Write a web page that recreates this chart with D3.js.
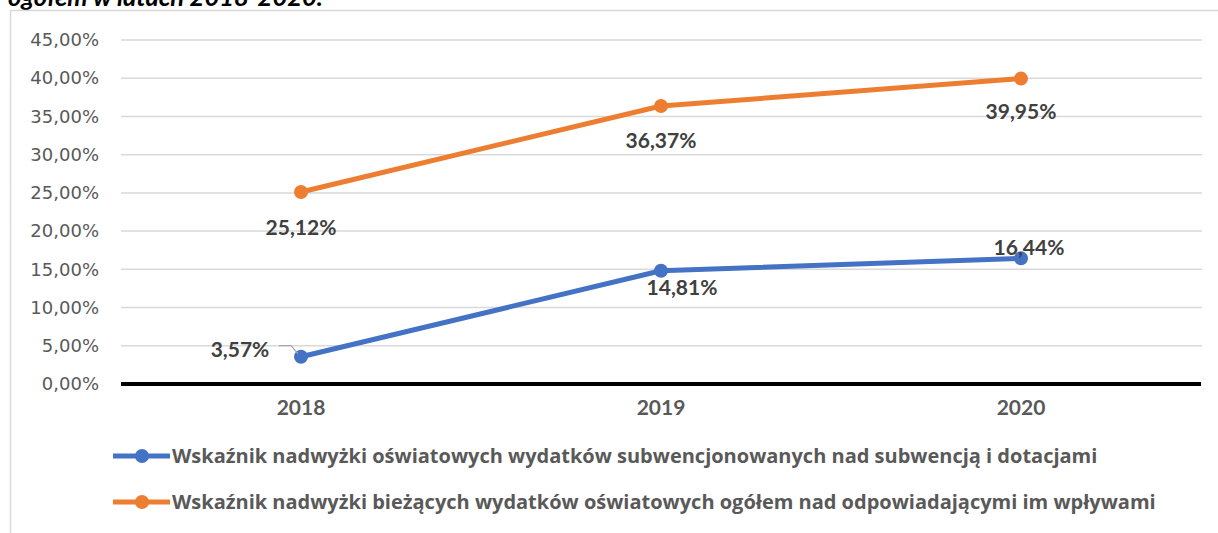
<!DOCTYPE html>
<html>
<head>
<meta charset="utf-8">
<script src="https://cdn.jsdelivr.net/npm/d3@7"></script>
<style>
  body { margin: 0; background: #fff; }
  svg { display: block; }
</style>
</head>
<body>
<script>
var years = ["2018", "2019", "2020"];
var subwencja = [3.57, 14.81, 16.44];
var biezace = [25.12, 36.37, 39.95];
var yTicks = [0, 5, 10, 15, 20, 25, 30, 35, 40, 45];
var seriesNames = [
  "Wskaźnik nadwyżki oświatowych wydatków subwencjonowanych nad subwencją i dotacjami",
  "Wskaźnik nadwyżki bieżących wydatków oświatowych ogółem nad odpowiadającymi im wpływami"
];
var title = "ogółem w latach 2018-2020.";

var width = 1218, height = 533;
var colors = ["#4472C4", "#ED7D31"];
// label offsets relative to each point (dx, dy of baseline-center)
var labelOff = [
  [[-61, 0], [21, 24], [8, -3]],
  [[0, 43], [0, 42], [0, 40]]
];

var fmt = function (v) { return v.toFixed(2).replace(".", ",") + "%"; };

var svg = d3.select("body").append("svg")
  .attr("width", width)
  .attr("height", height);

// title (cut at top)
svg.append("text")
  .attr("x", 8).attr("y", 6)
  .attr("font-family", "Lato, 'Open Sans', sans-serif")
  .attr("font-size", 25.5)
  .attr("font-weight", "bold")
  .attr("font-style", "italic")
  .attr("fill", "#000")
  .text(title);

// chart border
svg.append("path")
  .attr("d", "M10.5," + height + "V10.5H" + width)
  .attr("fill", "none")
  .attr("stroke", "#d9d9d9")
  .attr("stroke-width", 1.5);

var x = d3.scaleBand().domain(years).range([121, 1201]);
var y = d3.scaleLinear().domain([0, 45]).range([384, 40]);

// grid
svg.append("g").selectAll("line")
  .data(yTicks.filter(function (d) { return d > 0; }))
  .join("line")
  .attr("x1", 121).attr("x2", 1202)
  .attr("y1", function (d) { return y(d); })
  .attr("y2", function (d) { return y(d); })
  .attr("stroke", "#d9d9d9")
  .attr("stroke-width", 1.5);

// y axis labels
var yAxis = svg.append("g")
  .attr("transform", "translate(112,0)")
  .call(d3.axisLeft(y).tickValues(yTicks).tickFormat(fmt).tickSize(0).tickPadding(13));
yAxis.select(".domain").remove();
yAxis.selectAll("text")
  .attr("font-family", "'DejaVu Sans', sans-serif")
  .attr("font-size", 18)
  .attr("fill", "#595959");

// x axis
var xAxis = svg.append("g")
  .attr("transform", "translate(0," + y(0) + ")")
  .call(d3.axisBottom(x).tickSize(0).tickPadding(16));
xAxis.select(".domain")
  .attr("d", "M121,0H1201")
  .attr("stroke", "#000")
  .attr("stroke-width", 4);
xAxis.selectAll("text")
  .attr("font-family", "Lato, sans-serif")
  .attr("font-size", 21)
  .attr("font-weight", "bold")
  .attr("fill", "#595959");

var cx = function (d, i) { return x(years[i]) + x.bandwidth() / 2; };
var line = d3.line()
  .x(function (d, i) { return cx(d, i); })
  .y(function (d) { return y(d); });

[subwencja, biezace].forEach(function (vals, s) {
  var g = svg.append("g");
  g.append("path")
    .datum(vals)
    .attr("d", line)
    .attr("fill", "none")
    .attr("stroke", colors[s])
    .attr("stroke-width", 5)
    .attr("stroke-linejoin", "round");
  g.selectAll("circle")
    .data(vals)
    .join("circle")
    .attr("cx", cx)
    .attr("cy", function (d) { return y(d); })
    .attr("r", 7)
    .attr("fill", colors[s]);
  g.selectAll("text")
    .data(vals)
    .join("text")
    .attr("x", function (d, i) { return cx(d, i) + labelOff[s][i][0]; })
    .attr("y", function (d, i) { return y(d) + labelOff[s][i][1]; })
    .attr("text-anchor", "middle")
    .attr("font-family", "Lato, sans-serif")
    .attr("font-size", 21)
    .attr("font-weight", "bold")
    .attr("fill", "#404040")
    .text(fmt);
});

// leader line for 3,57%
var p0x = cx(null, 0), p0y = y(subwencja[0]);
svg.append("path")
  .attr("d", "M" + (p0x - 22) + "," + (p0y - 11) + "H" + (p0x - 10) + "L" + (p0x - 3) + "," + (p0y - 3))
  .attr("fill", "none")
  .attr("stroke", "#a6a6a6")
  .attr("stroke-width", 1.2);

// legend
var legend = svg.append("g").selectAll("g")
  .data(seriesNames)
  .join("g")
  .attr("transform", function (d, i) { return "translate(113," + (456 + i * 46) + ")"; });
legend.append("line")
  .attr("x1", 0).attr("x2", 57)
  .attr("stroke", function (d, i) { return colors[i]; })
  .attr("stroke-width", 5);
legend.append("circle")
  .attr("cx", 29).attr("r", 7)
  .attr("fill", function (d, i) { return colors[i]; });
legend.append("text")
  .attr("x", 59).attr("y", 7)
  .attr("font-family", "'Open Sans', sans-serif")
  .attr("font-size", 20)
  .attr("font-weight", "bold")
  .attr("fill", "#595959")
  .text(function (d) { return d; });
</script>
</body>
</html>
